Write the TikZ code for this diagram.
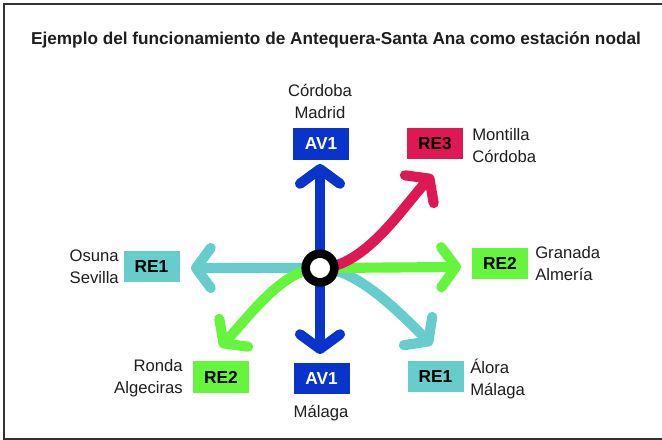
\documentclass[tikz,border=0pt]{standalone}
\usepackage{fontspec}
\setmainfont{Liberation Sans}
\usetikzlibrary{arrows.meta}
\definecolor{avblue}{RGB}{8,52,204}
\definecolor{rered}{RGB}{222,24,84}
\definecolor{regreen}{RGB}{100,245,60}
\definecolor{reteal}{RGB}{102,204,204}
\definecolor{txt}{RGB}{30,30,30}
\begin{document}
\begin{tikzpicture}[x=0.75pt,y=-0.75pt,
  linebox/.style={fill=#1,minimum width=42pt,minimum height=23.5pt,inner sep=0pt,font=\fontsize{13}{15}\selectfont\bfseries},
  lbl/.style={font=\fontsize{12.5}{16.5}\selectfont,text=txt,inner sep=0pt},
  route/.style={line width=7.6pt,line cap=round,line join=round,
    arrows={-Straight Barb[length=11pt,width=30pt,line cap=round,line join=round]}},
  route2/.style={line width=7.6pt,line cap=round,line join=round,
    arrows={Straight Barb[length=11pt,width=30pt,line cap=round,line join=round]-Straight Barb[length=11pt,width=30pt,line cap=round,line join=round]}}]
\useasboundingbox (0,0) rectangle (662,440);
\draw[line width=1.2pt,draw=black!80] (662,4) -- (4,4) -- (4,439) -- (662,439);
\node[font=\fontsize{12.9}{15}\selectfont\bfseries,text=txt] (title) at (336,40) {Ejemplo del funcionamiento de Antequera-Santa Ana como estación nodal};

% boxes
\node[linebox=avblue,text=white] (avT) at (321,144) {AV1};
\node[linebox=avblue,text=white] (avB) at (321.5,378.5) {AV1};
\node[linebox=rered,text=black] (re3) at (435,143.5) {RE3};
\node[linebox=reteal,text=black] (re1L) at (151.5,266.5) {RE1};
\node[linebox=regreen,text=black] (re2R) at (500,263.5) {RE2};
\node[linebox=regreen,text=black] (re2L) at (221,377) {RE2};
\node[linebox=reteal,text=black] (re1R) at (435.5,376.5) {RE1};

% labels
\node[lbl,align=center] (lAvT) at (320,101) {Córdoba\\Madrid};
\node[lbl,align=left,anchor=west] (lRe3) at (472,146) {Montilla\\Córdoba};
\node[lbl,align=right,anchor=east] (lRe1L) at (119,267) {Osuna\\Sevilla};
\node[lbl,align=left,anchor=west] (lRe2R) at (535,264) {Granada\\Almería};
\node[lbl,align=right,anchor=east] (lRe2L) at (183,378) {Ronda\\Algeciras};
\node[lbl,align=left,anchor=west] (lRe1R) at (470,379) {Álora\\Málaga};
\node[lbl] (lAvB) at (321,413) {Málaga};

% arrow tips
\coordinate (c) at (320,268);
\coordinate (tTop) at (320,164);
\coordinate (tBot) at (320,354);
\coordinate (tRed) at (433,175);
\coordinate (tTealL) at (191,268);
\coordinate (tTealR) at (432,345);
\coordinate (tGreenR) at (461,267);
\coordinate (tGreenL) at (220,347);

\draw[route2,reteal] (tTealL) -- (c) .. controls (357,268) and (402,315) .. (tTealR);
\draw[route2,regreen] (tGreenR) -- (c) .. controls (283,268) and (248,318) .. (tGreenL);
\draw[route,rered] (c) .. controls (365,268) and (405,204) .. (tRed);
\draw[route2,avblue] (tTop) -- (tBot);

\node[circle,draw=black,line width=6.4pt,fill=white,minimum size=21.5pt,inner sep=0pt] (ring) at (c) {};
\end{tikzpicture}
\end{document}
